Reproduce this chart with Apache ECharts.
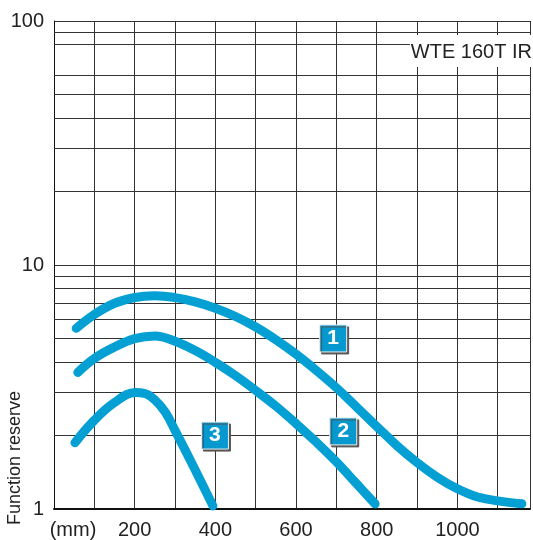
<!DOCTYPE html>
<html>
<head>
<meta charset="utf-8">
<script src="https://cdn.jsdelivr.net/npm/echarts@6/dist/echarts.min.js"></script>
<style>
html,body{margin:0;padding:0;background:#fff;}
#chart{width:533px;height:540px;}
</style>
</head>
<body>
<div id="chart"></div>
<script>
// Distance (mm) and function reserve values
const curve1X = [55, 100, 150, 200, 250, 300, 350, 400, 450, 500, 550, 600, 650, 700, 750, 800, 850, 900, 950, 1000, 1050, 1100, 1160];
const curve1Y = [5.50, 6.27, 6.97, 7.36, 7.48, 7.35, 7.06, 6.65, 6.15, 5.57, 4.94, 4.31, 3.70, 3.14, 2.62, 2.18, 1.82, 1.55, 1.35, 1.21, 1.12, 1.08, 1.05];

const curve2X = [59, 100, 150, 200, 250, 300, 350, 400, 450, 500, 550, 600, 650, 700, 750, 796];
const curve2Y = [3.63, 4.14, 4.61, 4.99, 5.12, 4.87, 4.46, 3.99, 3.52, 3.06, 2.64, 2.24, 1.88, 1.56, 1.27, 1.05];

const curve3X = [52, 100, 150, 202, 224, 249, 276, 300, 347, 394];
const curve3Y = [1.87, 2.31, 2.73, 3.00, 2.98, 2.81, 2.49, 2.10, 1.48, 1.03];

// Curve number tags
const tagNames = ['1', '2', '3'];
const tagX = [692, 717, 399];
const tagY = [5.00, 2.08, 2.00];

// Axis ticks
const xTickLabels = [200, 400, 600, 800, 1000];
const yMinorGrid = [2, 3, 4, 5, 6, 7, 8, 9, 20, 30, 40, 50, 60, 80, 90];

const FONT = 'Liberation Sans, Arial, sans-serif';
const BLUE = '#049fd3';
const GRID = '#333';

const zip = (xs, ys) => xs.map((x, i) => [x, ys[i]]);

const chart = echarts.init(document.getElementById('chart'), null, {renderer: 'canvas'});

const curveSeries = (xs, ys) => ({
  type: 'line',
  data: zip(xs, ys),
  smooth: 0.4,
  showSymbol: false,
  symbol: 'none',
  z: 10,
  lineStyle: {color: BLUE, width: 9, cap: 'round', join: 'round'},
  silent: true
});

chart.setOption({
  animation: false,
  backgroundColor: '#fff',
  grid: {left: 54, right: 0, top: 21, bottom: 31, containLabel: false},
  xAxis: {
    type: 'value',
    min: 0,
    max: 1180,
    interval: 100,
    axisLine: {show: true, lineStyle: {color: '#111', width: 2}},
    axisTick: {show: false},
    splitLine: {show: true, lineStyle: {color: GRID, width: 1}},
    axisLabel: {
      margin: 11,
      fontSize: 20,
      color: '#222',
      fontFamily: FONT,
      formatter: v => (xTickLabels.indexOf(v) >= 0 ? String(v) : '')
    }
  },
  yAxis: {
    type: 'log',
    logBase: 10,
    min: 1,
    max: 100,
    axisLine: {show: true, lineStyle: {color: '#111', width: 1}},
    axisTick: {show: false},
    splitLine: {show: true, lineStyle: {color: GRID, width: 1}},
    axisLabel: {margin: 10, fontSize: 20, color: '#222', fontFamily: FONT}
  },
  series: [
    {
      type: 'line',
      data: [],
      z: 1,
      markLine: {
        z: 1,
        silent: true,
        symbol: ['none', 'none'],
        label: {show: false},
        lineStyle: {color: GRID, width: 1, type: 'solid'},
        data: yMinorGrid.map(v => ({yAxis: v}))
      }
    },
    curveSeries(curve1X, curve1Y),
    curveSeries(curve2X, curve2Y),
    curveSeries(curve3X, curve3Y),
    {
      type: 'scatter',
      z: 20,
      data: tagNames.map((n, i) => ({value: [tagX[i], tagY[i]], name: n})),
      symbol: 'rect',
      symbolSize: 27,
      itemStyle: {
        color: '#0599d0',
        opacity: 1,
        borderColor: '#eeeeee',
        borderWidth: 1,
        shadowColor: '#555',
        shadowOffsetX: 2,
        shadowOffsetY: 2,
        shadowBlur: 0
      },
      label: {
        show: true,
        position: 'inside',
        formatter: p => p.name,
        color: '#fff',
        fontSize: 21,
        fontWeight: 'bold',
        fontFamily: FONT
      },
      silent: true
    }
  ],
  graphic: [
    {
      type: 'rect',
      z: 100,
      shape: {x: 410, y: 35, width: 123, height: 32},
      style: {fill: '#fff'}
    },
    {
      type: 'text',
      z: 101,
      x: 532,
      y: 52,
      style: {text: 'WTE 160T IR', fontSize: 20, fontFamily: FONT, fill: '#222', align: 'right', verticalAlign: 'middle'}
    },
    {
      type: 'text',
      z: 101,
      x: 73,
      y: 530,
      style: {text: '(mm)', fontSize: 20, fontFamily: FONT, fill: '#222', align: 'center', verticalAlign: 'middle'}
    },
    {
      type: 'text',
      z: 101,
      x: 15,
      y: 458,
      rotation: Math.PI / 2,
      style: {text: 'Function reserve', fontSize: 18, fontFamily: FONT, fill: '#222', align: 'center', verticalAlign: 'middle'}
    }
  ]
});
</script>
</body>
</html>
